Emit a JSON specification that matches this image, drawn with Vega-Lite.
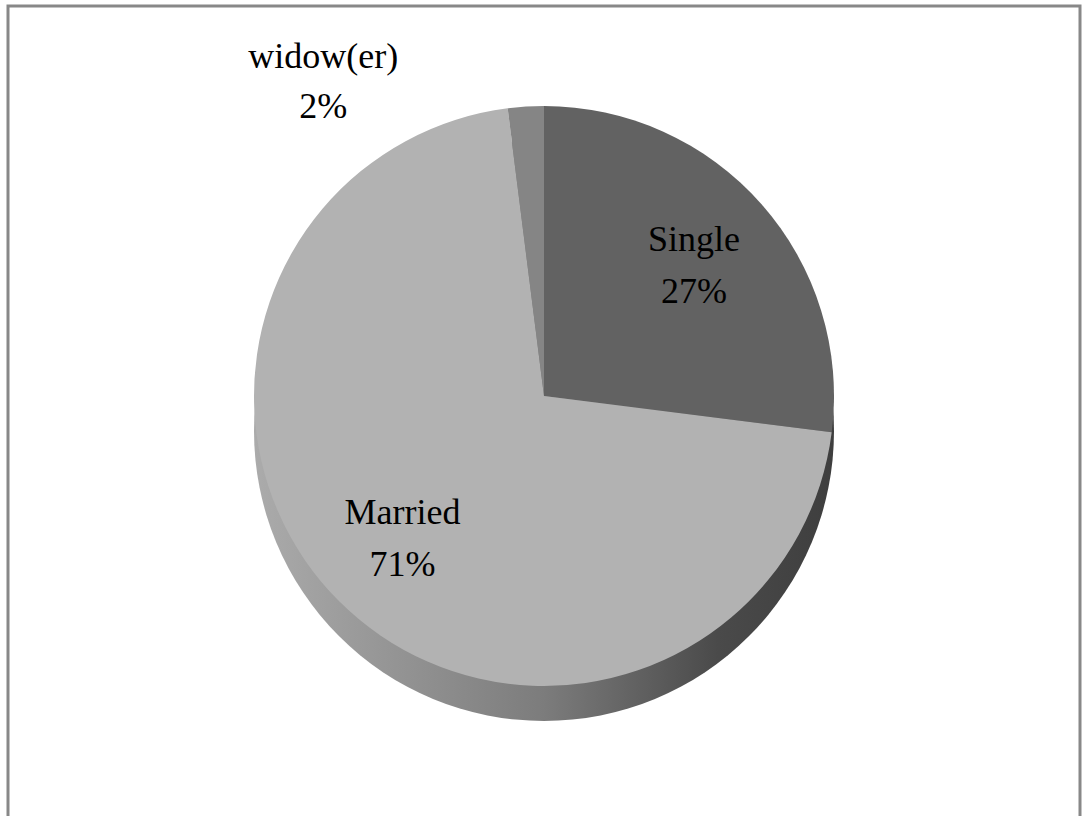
{
  "$schema": "https://vega.github.io/schema/vega-lite/v6.json",
  "width": 1087,
  "height": 816,
  "autosize": {"type": "fit", "contains": "padding"},
  "padding": {"left": 8, "top": 6, "right": 7, "bottom": -4},
  "background": "white",
  "view": {"stroke": "#888888", "strokeWidth": 3, "fill": "white"},
  "data": {"values": [
    {"category": "Single", "value": 0.27, "idx": 1},
    {"category": "Married", "value": 0.71, "idx": 2},
    {"category": "widow(er)", "value": 0.02, "idx": 3}
  ]},
  "layer": [
    {
      "mark": {"type": "arc", "radius": 290, "y": {"expr": "height/2 + 18"},
        "color": {"gradient": "linear", "x1": 0, "y1": 0, "x2": 1, "y2": 0,
          "stops": [{"offset": 0, "color": "#ababab"}, {"offset": 0.5, "color": "#7c7c7c"}, {"offset": 0.8, "color": "#4a4a4a"}, {"offset": 1, "color": "#3e3e3e"}]}},
      "encoding": {"theta": {"aggregate": "sum", "field": "value", "type": "quantitative"}}
    },
    {
      "mark": {"type": "arc", "radius": 290, "y": {"expr": "height/2 - 17"}},
      "encoding": {
        "theta": {"field": "value", "type": "quantitative", "stack": true},
        "order": {"field": "idx", "type": "quantitative"},
        "color": {"field": "category", "type": "nominal", "legend": null,
          "scale": {"domain": ["Single", "Married", "widow(er)"], "range": ["#626262", "#b2b2b2", "#858585"]}}
      }
    },
    {
      "mark": {"type": "text", "radius": 200, "dy": -24, "y": {"expr": "height/2 - 17"}, "font": "Liberation Serif", "fontSize": 36, "color": "black"},
      "encoding": {
        "theta": {"field": "value", "type": "quantitative", "stack": true},
        "order": {"field": "idx", "type": "quantitative"},
        "text": {"field": "category"},
        "opacity": {"condition": {"test": "datum.value > 0.05", "value": 1}, "value": 0}
      }
    },
    {
      "mark": {"type": "text", "radius": 200, "dy": 28, "y": {"expr": "height/2 - 17"}, "font": "Liberation Serif", "fontSize": 36, "color": "black"},
      "encoding": {
        "theta": {"field": "value", "type": "quantitative", "stack": true},
        "order": {"field": "idx", "type": "quantitative"},
        "text": {"field": "value", "format": ".0%"},
        "opacity": {"condition": {"test": "datum.value > 0.05", "value": 1}, "value": 0}
      }
    },
    {
      "mark": {"type": "text", "radius": 330, "dx": -200, "dy": -10, "y": {"expr": "height/2 - 17"}, "font": "Liberation Serif", "fontSize": 36, "color": "black"},
      "encoding": {
        "theta": {"field": "value", "type": "quantitative", "stack": true},
        "order": {"field": "idx", "type": "quantitative"},
        "text": {"field": "category"},
        "opacity": {"condition": {"test": "datum.value <= 0.05", "value": 1}, "value": 0}
      }
    },
    {
      "mark": {"type": "text", "radius": 330, "dx": -200, "dy": 40, "y": {"expr": "height/2 - 17"}, "font": "Liberation Serif", "fontSize": 36, "color": "black"},
      "encoding": {
        "theta": {"field": "value", "type": "quantitative", "stack": true},
        "order": {"field": "idx", "type": "quantitative"},
        "text": {"field": "value", "format": ".0%"},
        "opacity": {"condition": {"test": "datum.value <= 0.05", "value": 1}, "value": 0}
      }
    }
  ]
}
